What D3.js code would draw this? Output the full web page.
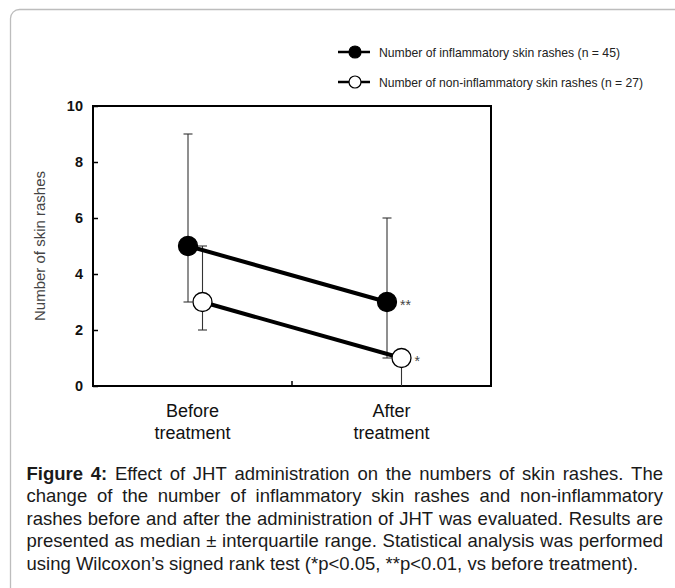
<!DOCTYPE html>
<html>
<head>
<meta charset="utf-8">
<script src="https://cdn.jsdelivr.net/npm/d3@7"></script>
<style>
  body { margin: 0; background: #fff; }
  svg { display: block; font-family: Arial, 'Liberation Sans', sans-serif; }
</style>
</head>
<body>
<div id="chart"></div>
<script>
// data (median, lower / upper quartile)
const categories = ['Before treatment', 'After treatment']
const inflamMedian = [5, 3]
const inflamLow = [3, 1]
const inflamHigh = [9, 6]
const inflamSig = ['', '**']
const nonInflamMedian = [3, 1]
const nonInflamLow = [2, 0]
const nonInflamHigh = [5, 1]
const nonInflamSig = ['', '*']
const yTicks = [0, 2, 4, 6, 8, 10]
const legendLabels = [
  'Number of inflammatory skin rashes (n = 45)',
  'Number of non-inflammatory skin rashes (n = 27)'
]
const captionBold = 'Figure 4:'
const captionLines = [
  'Figure 4: Effect of JHT administration on the numbers of skin rashes. The',
  'change of the number of inflammatory skin rashes and non-inflammatory',
  'rashes before and after the administration of JHT was evaluated. Results are',
  'presented as median ± interquartile range. Statistical analysis was performed',
  'using Wilcoxon\u2019s signed rank test (*p<0.05, **p<0.01, vs before treatment).'
]

const width = 675
const height = 588
const plot = { left: 93, right: 491, top: 106, bottom: 386 }

const svg = d3.select('#chart')
  .append('svg')
  .attr('width', width)
  .attr('height', height)

// card outline
svg.append('rect')
  .attr('x', 10.5)
  .attr('y', 9.5)
  .attr('width', 720)
  .attr('height', 640)
  .attr('rx', 9)
  .attr('fill', 'none')
  .attr('stroke', '#bdbdbd')
  .attr('stroke-width', 1.3)

const x = d3.scaleBand()
  .domain(categories)
  .range([plot.left, plot.right])

const y = d3.scaleLinear()
  .domain([0, 10])
  .range([plot.bottom, plot.top])

const series = [
  { median: inflamMedian, low: inflamLow, high: inflamHigh, sig: inflamSig, fill: '#000', shift: -4.5 },
  { median: nonInflamMedian, low: nonInflamLow, high: nonInflamHigh, sig: nonInflamSig, fill: '#fff', shift: 10 }
]
const cx = (s, i) => x(categories[i]) + x.bandwidth() / 2 + s.shift

// y axis, ticks pointing inward
const yAxis = svg.append('g')
  .attr('transform', `translate(${plot.left},0)`)
  .call(d3.axisLeft(y).tickValues(yTicks).tickSizeInner(-5).tickSizeOuter(0).tickPadding(10))
yAxis.select('.domain').remove()
yAxis.selectAll('line').attr('stroke', '#000').attr('stroke-width', 1.5)
yAxis.selectAll('text')
  .attr('font-size', 14.5)
  .attr('font-weight', 'bold')
  .attr('font-family', 'Arial, Liberation Sans, sans-serif')
  .attr('fill', '#111')

// x axis labels (two lines each)
const xAxis = svg.append('g')
  .attr('transform', `translate(0,${plot.bottom})`)
  .call(d3.axisBottom(x).tickSize(0).tickPadding(0))
xAxis.select('.domain').remove()
xAxis.selectAll('text').each(function (d) {
  const t = d3.select(this).text(null)
    .attr('font-size', 18)
    .attr('font-family', 'Arial, Liberation Sans, sans-serif')
    .attr('fill', '#111')
    .attr('dy', null)
    .attr('y', 0)
  d.split(' ').forEach((w, k) => {
    t.append('tspan').attr('x', 0).attr('y', 30.5 + k * 22).text(w)
  })
})

// tick between the two groups
svg.append('line')
  .attr('x1', x(categories[1])).attr('x2', x(categories[1]))
  .attr('y1', plot.bottom).attr('y2', plot.bottom - 5)
  .attr('stroke', '#000').attr('stroke-width', 1.5)

// frame
svg.append('rect')
  .attr('x', plot.left)
  .attr('y', plot.top)
  .attr('width', plot.right - plot.left)
  .attr('height', plot.bottom - plot.top)
  .attr('fill', 'none')
  .attr('stroke', '#000')
  .attr('stroke-width', 2)

// y title
svg.append('text')
  .attr('transform', `translate(45,${(plot.top + plot.bottom) / 2}) rotate(-90)`)
  .attr('text-anchor', 'middle')
  .attr('font-size', 15)
  .attr('fill', '#444')
  .text('Number of skin rashes')

// error bars
const capW = 4.5
series.forEach(s => {
  const g = svg.append('g').attr('stroke', '#333').attr('stroke-width', 1.1)
  categories.forEach((c, i) => {
    const px = cx(s, i)
    g.append('line')
      .attr('x1', px).attr('x2', px)
      .attr('y1', y(s.low[i])).attr('y2', y(s.high[i]))
    ;[s.low[i], s.high[i]].forEach(v => {
      if (v === s.median[i] || v === 0) return
      g.append('line')
        .attr('x1', px - capW).attr('x2', px + capW)
        .attr('y1', y(v)).attr('y2', y(v))
    })
  })
})

// connecting lines
const line = d3.line()
series.forEach(s => {
  svg.append('path')
    .datum(categories.map((c, i) => [cx(s, i), y(s.median[i])]))
    .attr('d', line)
    .attr('fill', 'none')
    .attr('stroke', '#000')
    .attr('stroke-width', 4)
})

// markers and significance stars
series.forEach(s => {
  categories.forEach((c, i) => {
    svg.append('circle')
      .attr('cx', cx(s, i))
      .attr('cy', y(s.median[i]))
      .attr('r', 9.5)
      .attr('fill', s.fill)
      .attr('stroke', '#000')
      .attr('stroke-width', 1.3)
    if (s.sig[i]) {
      svg.append('text')
        .attr('x', cx(s, i) + 13)
        .attr('y', y(s.median[i]) + 8)
        .attr('font-size', 14)
        .attr('fill', '#444')
        .text(s.sig[i])
    }
  })
})

// legend
const legend = svg.append('g')
series.forEach((s, k) => {
  const ly = 52 + k * 30
  legend.append('line')
    .attr('x1', 338).attr('x2', 370)
    .attr('y1', ly).attr('y2', ly)
    .attr('stroke', '#000').attr('stroke-width', 2.5)
  legend.append('circle')
    .attr('cx', 355).attr('cy', ly).attr('r', 6)
    .attr('fill', s.fill).attr('stroke', '#000').attr('stroke-width', 1.2)
  legend.append('text')
    .attr('x', 379).attr('y', ly + 5)
    .attr('font-size', 13)
    .attr('fill', '#222')
    .attr('textLength', k === 0 ? 241 : 264)
    .attr('lengthAdjust', 'spacingAndGlyphs')
    .text(legendLabels[k])
})

// caption, justified line by line
const capLeft = 26.5
const capRight = 663
const capG = svg.append('g')
  .attr('font-size', 18.5)
  .attr('fill', '#1a1a1a')
captionLines.forEach((txt, li) => {
  const baseY = 479.5 + li * 22.6
  const words = txt.split(' ')
  const boldCount = li === 0 ? captionBold.split(' ').length : 0
  const nodes = words.map((w, k) => capG.append('text')
    .attr('y', baseY)
    .attr('font-weight', k < boldCount ? 'bold' : 'normal')
    .text(w))
  const widths = nodes.map(n => n.node().getComputedTextLength())
  const total = d3.sum(widths)
  const last = li === captionLines.length - 1
  const gap = last ? 18.5 * 0.278 : (capRight - capLeft - total) / (words.length - 1)
  let cur = capLeft
  nodes.forEach((n, k) => {
    n.attr('x', cur)
    cur += widths[k] + gap
  })
})
</script>
</body>
</html>
